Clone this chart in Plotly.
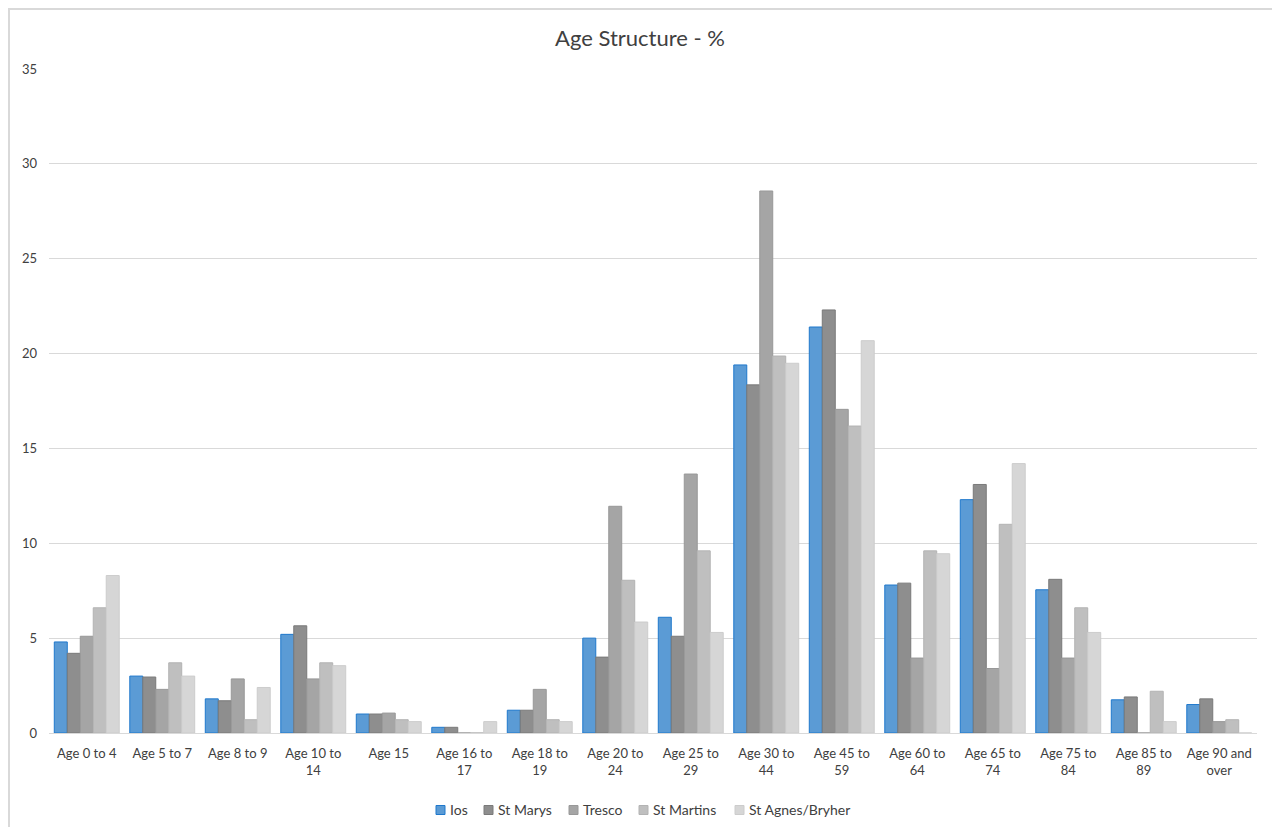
import plotly.graph_objects as go

categories = ["Age 0 to 4", "Age 5 to 7", "Age 8 to 9", "Age 10 to<br>14", "Age 15",
              "Age 16 to<br>17", "Age 18 to<br>19", "Age 20 to<br>24", "Age 25 to<br>29",
              "Age 30 to<br>44", "Age 45 to<br>59", "Age 60 to<br>64", "Age 65 to<br>74",
              "Age 75 to<br>84", "Age 85 to<br>89", "Age 90 and<br>over"]

ios = [4.8, 3.0, 1.8, 5.2, 1.0, 0.3, 1.2, 5.0, 6.1, 19.4, 21.4, 7.8, 12.3, 7.55, 1.75, 1.5]
st_marys = [4.2, 2.95, 1.7, 5.65, 1.0, 0.3, 1.2, 4.0, 5.1, 18.35, 22.3, 7.9, 13.1, 8.1, 1.9, 1.8]
tresco = [5.1, 2.3, 2.85, 2.85, 1.05, 0, 2.3, 11.95, 13.65, 28.57, 17.06, 3.95, 3.4, 3.95, 0, 0.6]
st_martins = [6.6, 3.7, 0.7, 3.7, 0.7, 0, 0.7, 8.05, 9.6, 19.87, 16.18, 9.6, 11.0, 6.6, 2.2, 0.7]
st_agnes = [8.3, 3.0, 2.4, 3.55, 0.6, 0.6, 0.6, 5.85, 5.3, 19.49, 20.68, 9.45, 14.2, 5.3, 0.6, 0]

series = [
    ("Ios", ios, "#5b9bd5", "#1f78cc"),
    ("St Marys", st_marys, "#8e8e8e", "#7a7a7a"),
    ("Tresco", tresco, "#a5a5a5", "#989898"),
    ("St Martins", st_martins, "#bfbfbf", "#b3b3b3"),
    ("St Agnes/Bryher", st_agnes, "#d6d6d6", "#cccccc"),
]

fig = go.Figure()
for name, vals, fill, line in series:
    fig.add_trace(go.Bar(x=categories, y=vals, name=name, showlegend=False,
                         marker=dict(color=fill, line=dict(color=line, width=1))))

# page body has an 8px margin; work in screen pixels and convert
OFF = 8
W, H = 1280, 827
SL, SR, ST, SB = 49, 1257, 69, 733  # plot area in screen pixels
L = SL - OFF
T = ST - OFF
R = W - (SR - OFF)
B = H - (SB - OFF)
pw, ph = W - L - R, H - T - B

def px_x(p):
    return (p - OFF - L) / pw

def px_y(p):
    return (H - B - (p - OFF)) / ph

# outer chart border
fig.add_shape(type="rect", xref="paper", yref="paper",
              x0=px_x(9), x1=px_x(1273), y0=px_y(900), y1=px_y(9),
              line=dict(color="#d9d9d9", width=2), fillcolor="rgba(0,0,0,0)", layer="below")

# custom legend
legend_x = [436, 484, 569, 639, 735]
legend_y = 810
for (name, vals, fill, line), lx in zip(series, legend_x):
    fig.add_shape(type="rect", xref="paper", yref="paper",
                  x0=px_x(lx), x1=px_x(lx + 9), y0=px_y(legend_y + 4.5), y1=px_y(legend_y - 4.5),
                  fillcolor=fill, line=dict(color=line, width=1))
    fig.add_annotation(xref="paper", yref="paper", x=px_x(lx + 12), y=px_y(legend_y),
                       xanchor="left", yanchor="middle", showarrow=False, text=name,
                       font=dict(size=14, color="#404040"))

fig.update_layout(
    width=W, height=H,
    margin=dict(l=L, r=R, t=T, b=B, autoexpand=False),
    paper_bgcolor="white", plot_bgcolor="white",
    font=dict(family="Lato, 'Open Sans', sans-serif", color="#404040", size=13),
    title=dict(text="Age Structure - %", x=px_x(640), xanchor="center",
               xref="paper", y=1 - (38 - OFF) / H, yanchor="middle",
               font=dict(size=22, color="#404040")),
    barmode="group", bargap=0.14, bargroupgap=0,
    showlegend=False,
    xaxis=dict(showgrid=False, showline=True, linecolor="#d9d9d9", linewidth=1,
               ticks="", ticklabelstandoff=8, tickfont=dict(size=13, color="#404040")),
    yaxis=dict(range=[0, 35], dtick=5, showgrid=True, gridcolor="#d9d9d9", gridwidth=1,
               zeroline=False, showline=False, ticks="", ticklabelstandoff=11,
               tickfont=dict(size=13, color="#404040")),
)

fig.write_html("out.html")
